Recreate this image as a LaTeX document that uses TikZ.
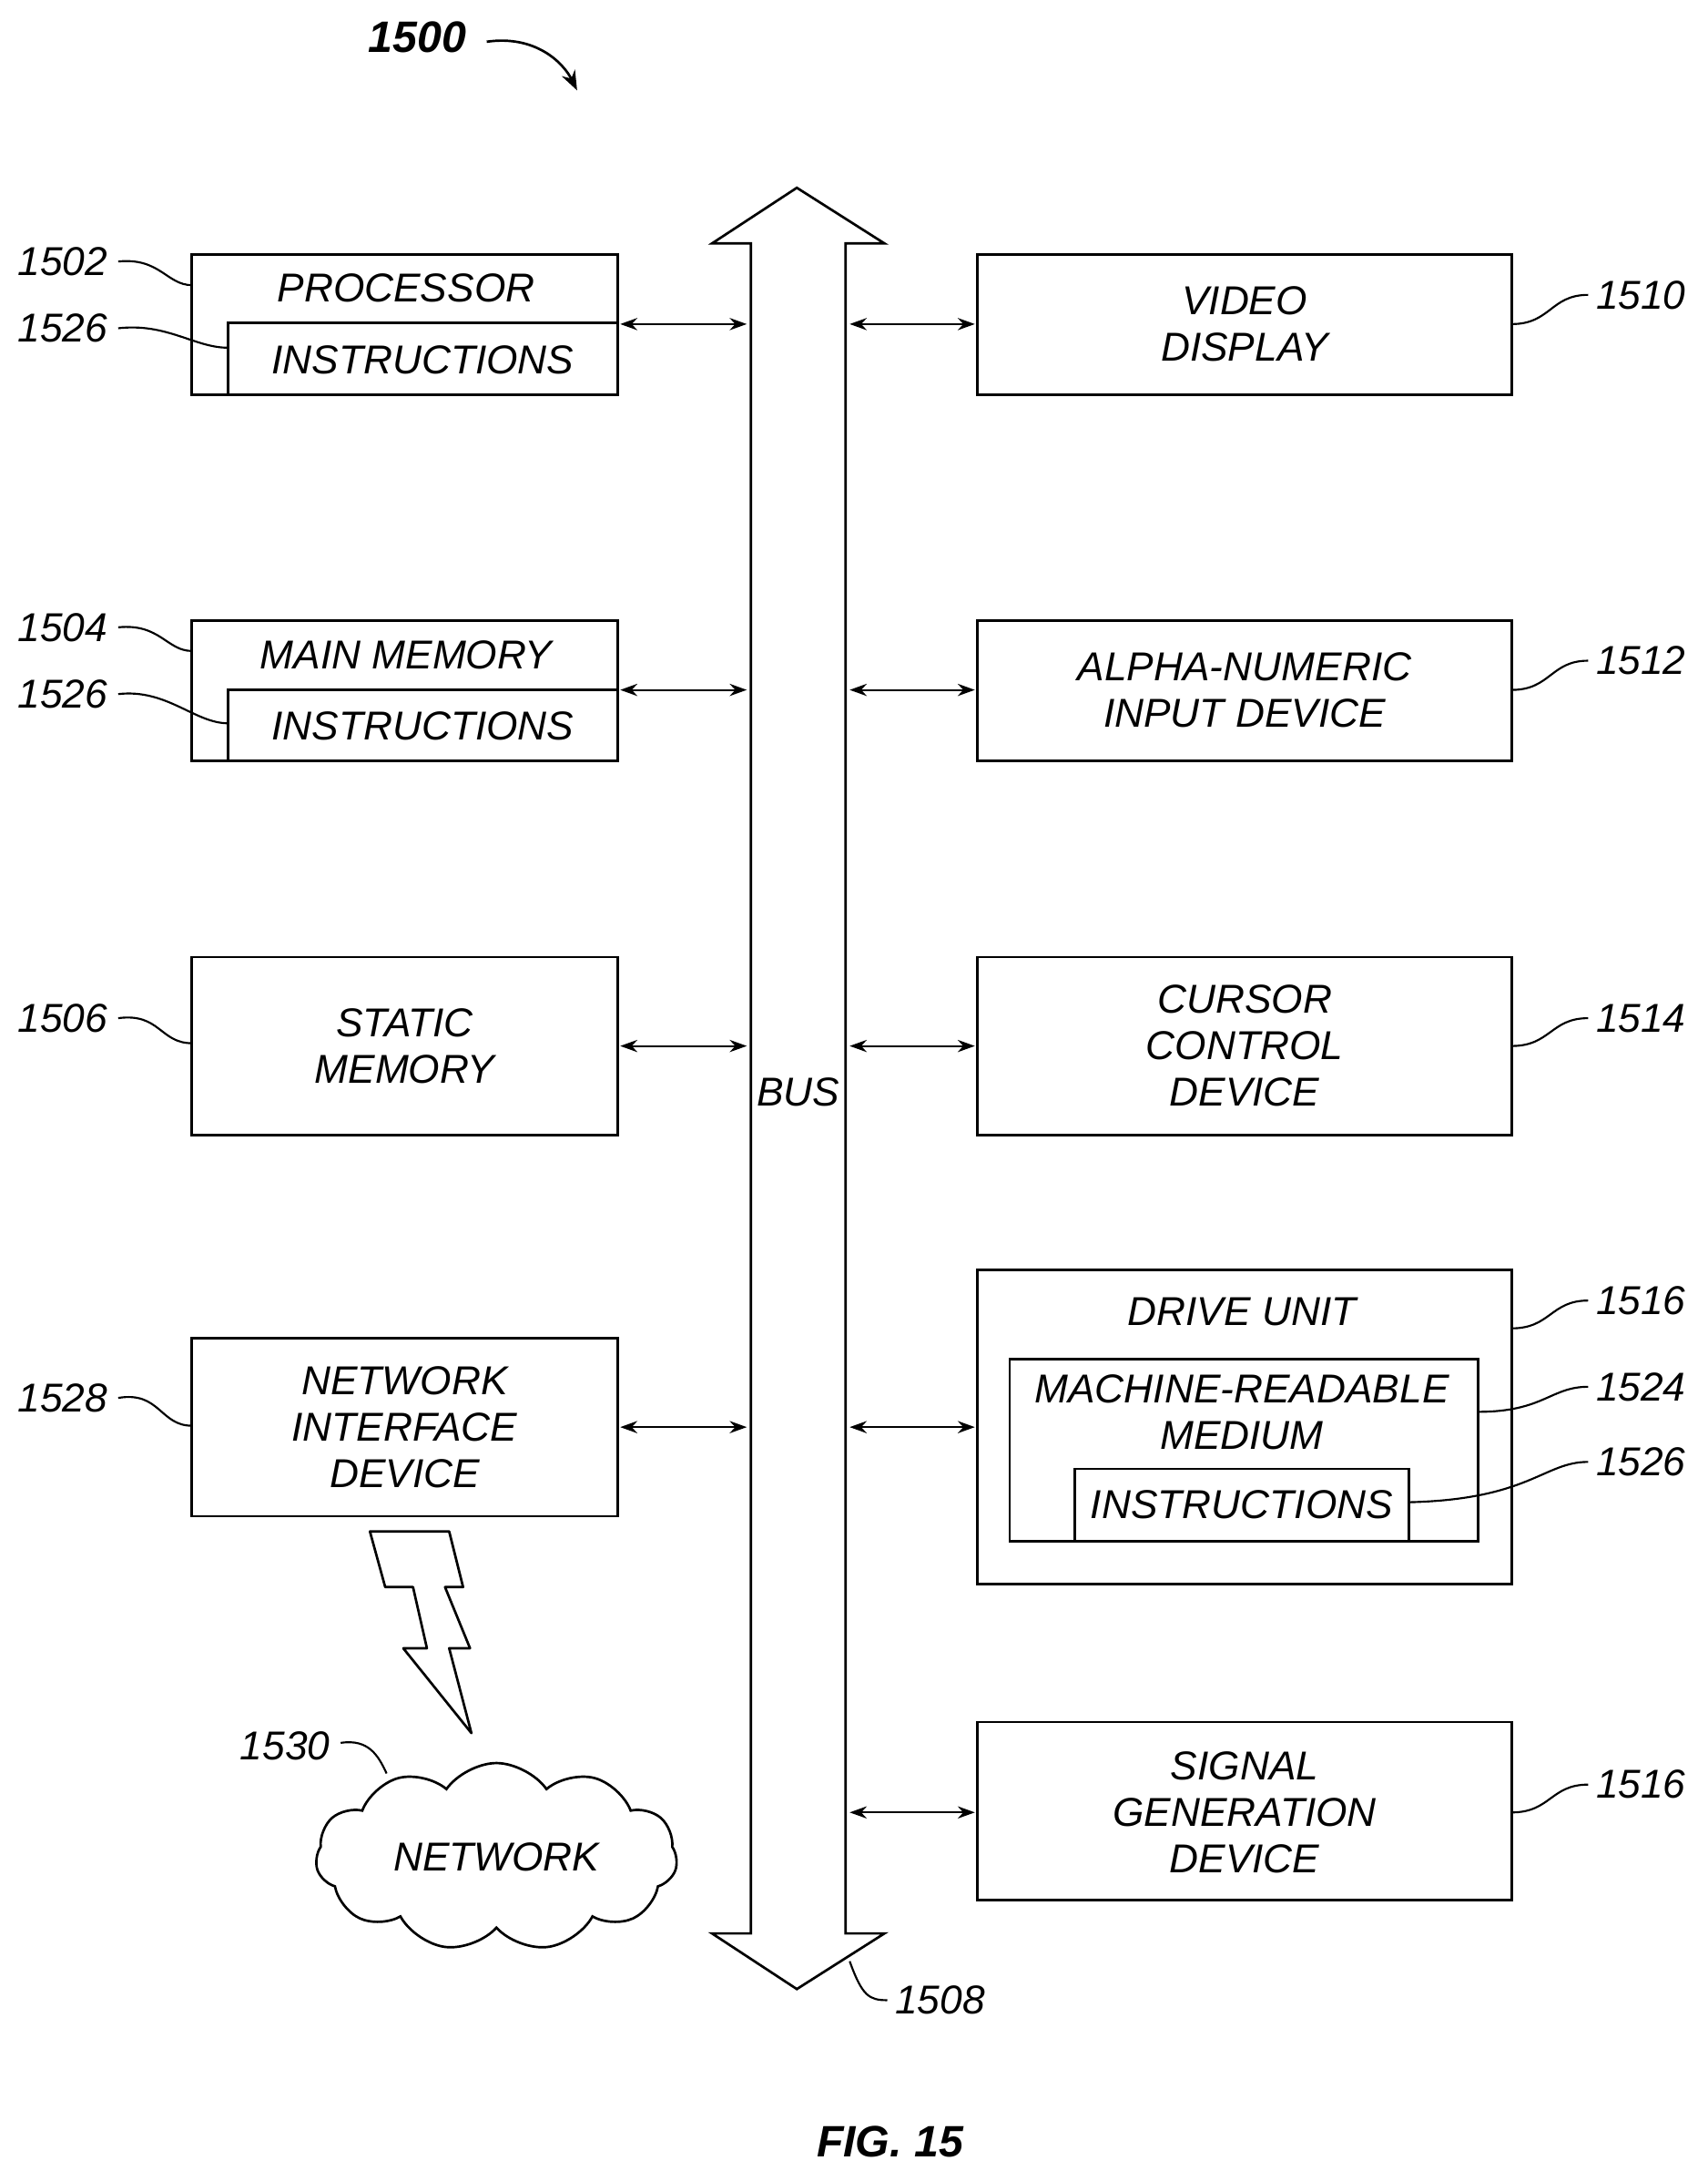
\documentclass[tikz,border=0pt]{standalone}
\usepackage{fontspec}
\setmainfont{Liberation Sans}
\usetikzlibrary{arrows.meta,shapes.symbols}
\begin{document}
\begin{tikzpicture}[x=0.02cm,y=-0.02cm,
  every node/.style={font=\fontsize{16.5}{19}\selectfont\itshape},
  box/.style={draw,line width=1pt,inner sep=0pt},
  dbl/.style={{Stealth[length=7pt,width=5pt]}-{Stealth[length=7pt,width=5pt]},line width=0.8pt},
  lead/.style={line width=0.8pt}]
\useasboundingbox (0,0) rectangle (1228,1568);
% title
\node[font=\fontsize{18}{20}\selectfont\bfseries\itshape] (t) at (300,27) {1500};
\coordinate (ta) at (415,65);
\draw[line width=1pt,-{Stealth[length=8pt]}] (350,30) .. controls (385,25) and (405,45) .. (ta);
% bus
\draw[line width=1pt] (573,135) -- (636,175) -- (608,175) -- (608,1390) -- (636,1390) -- (573,1430) -- (512,1390) -- (540,1390) -- (540,175) -- (512,175) -- cycle;
\node (bus) at (574,785) {BUS};
% left boxes
\draw[box] (138,183) rectangle (444,284); \draw[box] (164,232) rectangle (444,284);
\node (p) at (292,207) {PROCESSOR}; \node (pi) at (304,259) {INSTRUCTIONS};
\draw[box] (138,446) rectangle (444,547); \draw[box] (164,496) rectangle (444,547);
\node (m) at (292,471) {MAIN MEMORY}; \node (mi) at (304,522) {INSTRUCTIONS};
\draw[box] (138,688) rectangle (444,816);
\node[align=center] (s) at (291,752) {STATIC\\MEMORY};
\draw[box] (138,962) rectangle (444,1090);
\node[align=center] (n) at (291,1026) {NETWORK\\INTERFACE\\DEVICE};
\foreach \y in {233,496,752,1026}{\draw[dbl] (446,\y) -- (537,\y);}
% right boxes
\draw[box] (703,183) rectangle (1087,284); \node[align=center] (v) at (895,233) {VIDEO\\DISPLAY};
\draw[box] (703,446) rectangle (1087,547); \node[align=center] (a) at (895,496) {ALPHA-NUMERIC\\INPUT DEVICE};
\draw[box] (703,688) rectangle (1087,816); \node[align=center] (c) at (895,752) {CURSOR\\CONTROL\\DEVICE};
\draw[box] (703,913) rectangle (1087,1139); \node (d) at (893,943) {DRIVE UNIT};
\draw[box] (726,977) rectangle (1063,1108); \node[align=center] (mr) at (893,1015) {MACHINE-READABLE\\MEDIUM};
\draw[box] (773,1056) rectangle (1013,1108); \node (di) at (893,1082) {INSTRUCTIONS};
\draw[box] (703,1238) rectangle (1087,1366); \node[align=center] (g) at (895,1303) {SIGNAL\\GENERATION\\DEVICE};
\foreach \y in {233,496,752,1026,1303}{\draw[dbl] (611,\y) -- (701,\y);}
% labels left
\node (l1502) at (45,188) {1502}; \draw[lead] (85,188) .. controls (115,185) and (120,205) .. (138,205);
\node (l1526a) at (45,236) {1526}; \draw[lead] (85,236) .. controls (120,232) and (140,250) .. (164,250);
\node (l1504) at (45,451) {1504}; \draw[lead] (85,451) .. controls (115,448) and (120,468) .. (138,468);
\node (l1526b) at (45,499) {1526}; \draw[lead] (85,499) .. controls (120,495) and (140,520) .. (164,520);
\node (l1506) at (45,732) {1506}; \draw[lead] (85,732) .. controls (115,728) and (115,750) .. (138,750);
\node (l1528) at (45,1005) {1528}; \draw[lead] (85,1005) .. controls (115,1000) and (115,1025) .. (138,1025);
% labels right
\node (l1510) at (1180,212) {1510}; \draw[lead] (1087,233) .. controls (1115,233) and (1115,212) .. (1142,212);
\node (l1512) at (1180,475) {1512}; \draw[lead] (1087,496) .. controls (1115,496) and (1115,475) .. (1142,475);
\node (l1514) at (1180,732) {1514}; \draw[lead] (1087,752) .. controls (1115,752) and (1115,732) .. (1142,732);
\node (l1516a) at (1180,935) {1516}; \draw[lead] (1087,955) .. controls (1115,955) and (1115,935) .. (1142,935);
\node (l1524) at (1180,997) {1524}; \draw[lead] (1063,1015) .. controls (1110,1015) and (1115,997) .. (1142,997);
\node (l1526c) at (1180,1051) {1526}; \draw[lead] (1013,1080) .. controls (1100,1078) and (1110,1051) .. (1142,1051);
\node (l1516b) at (1180,1283) {1516}; \draw[lead] (1087,1303) .. controls (1115,1303) and (1115,1283) .. (1142,1283);
\node (l1508) at (676,1438) {1508}; \draw[lead] (611,1410) .. controls (620,1435) and (625,1438) .. (638,1438);
% lightning
\draw[line width=1pt,line join=round] (266,1101) -- (323,1101) -- (333,1141) -- (320,1141) -- (338,1185) -- (323,1185) -- (339,1246) -- (290,1185) -- (307,1185) -- (297,1141) -- (277,1141) -- cycle;
% cloud
\node[cloud,draw,line width=1pt,cloud puffs=11,cloud puff arc=110,aspect=1.9,minimum width=5.2cm,minimum height=2.7cm,inner sep=0pt,text width=0pt] (cl) at (357,1335) {};
\node (nw) at (357,1335) {NETWORK};
\node (l1530) at (205,1255) {1530}; \draw[lead] (245,1253) .. controls (265,1250) and (272,1262) .. (278,1275);
\node[font=\fontsize{18}{20}\selectfont\bfseries\itshape] (fig) at (640,1540) {FIG. 15};
\end{tikzpicture}
\end{document}
